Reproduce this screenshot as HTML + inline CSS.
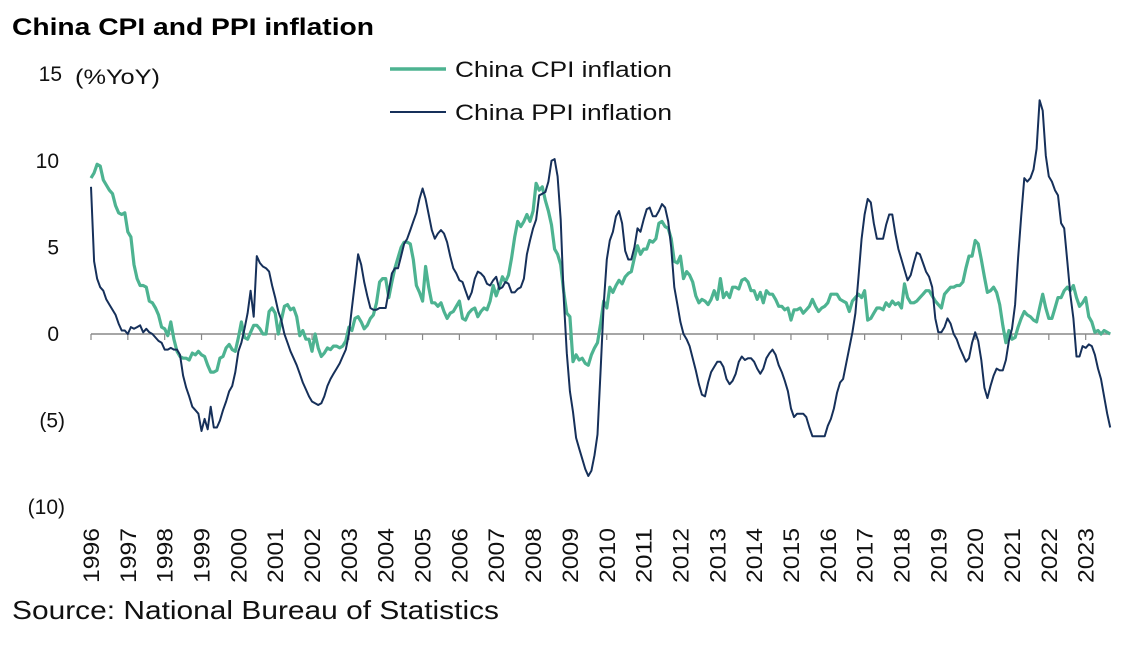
<!DOCTYPE html>
<html><head><meta charset="utf-8">
<style>
html,body{margin:0;padding:0;background:#fff;}
svg{display:block;font-family:"Liberation Sans",sans-serif;}
</style></head>
<body>
<svg id="chart" width="1124" height="649" viewBox="0 0 1124 649" xmlns="http://www.w3.org/2000/svg">
<text x="12" y="35" font-size="24" font-weight="bold" fill="#000" textLength="362" lengthAdjust="spacingAndGlyphs">China CPI and PPI inflation</text>
<text x="75" y="84" font-size="21" fill="#111" textLength="85" lengthAdjust="spacingAndGlyphs">(%YoY)</text>
<g id="yticks"></g>
<g id="xaxis"></g>
<g id="series"></g>
<g>
<line x1="390" y1="69" x2="446" y2="69" stroke="#4db391" stroke-width="3.5"/>
<text x="455" y="77" font-size="22" fill="#111" textLength="217" lengthAdjust="spacingAndGlyphs">China CPI inflation</text>
<line x1="390" y1="112" x2="446" y2="112" stroke="#16305a" stroke-width="2"/>
<text x="455" y="120" font-size="22" fill="#111" textLength="217" lengthAdjust="spacingAndGlyphs">China PPI inflation</text>
</g>
<text x="12" y="619" font-size="26" fill="#111" textLength="487" lengthAdjust="spacingAndGlyphs">Source: National Bureau of Statistics</text>
</svg>
<script>
const years = ["1996","1997","1998","1999","2000","2001","2002","2003","2004","2005","2006","2007","2008","2009","2010","2011","2012","2013","2014","2015","2016","2017","2018","2019","2020","2021","2022","2023"];
const yTickValues = [15,10,5,0,-5,-10];
const yTickLabels = ["15","10","5","0","(5)","(10)"];
const cpi = [
9.0,9.3,9.8,9.7,8.9,8.6,8.3,8.1,7.4,7.0,6.9,7.0,
5.9,5.6,4.0,3.2,2.8,2.8,2.7,1.9,1.8,1.5,1.1,0.4,
0.3,-0.1,0.7,-0.3,-1.0,-1.3,-1.4,-1.4,-1.5,-1.1,-1.2,-1.0,
-1.2,-1.3,-1.8,-2.2,-2.2,-2.1,-1.4,-1.3,-0.8,-0.6,-0.9,-1.0,
-0.2,0.7,-0.2,-0.3,0.1,0.5,0.5,0.3,0.0,0.0,1.3,1.5,
1.2,0.0,0.8,1.6,1.7,1.4,1.5,1.0,-0.1,0.2,-0.3,-0.3,
-1.0,0.0,-0.8,-1.3,-1.1,-0.8,-0.9,-0.7,-0.7,-0.8,-0.7,-0.4,
0.4,0.2,0.9,1.0,0.7,0.3,0.5,0.9,1.1,1.8,3.0,3.2,
3.2,2.1,3.0,3.8,4.4,5.0,5.3,5.3,5.2,4.3,2.8,2.4,
1.9,3.9,2.7,1.8,1.8,1.6,1.8,1.3,0.9,1.2,1.3,1.6,
1.9,0.9,0.8,1.2,1.4,1.5,1.0,1.3,1.5,1.4,1.9,2.8,
2.2,2.7,3.3,3.0,3.4,4.4,5.6,6.5,6.2,6.5,6.9,6.5,
7.1,8.7,8.3,8.5,7.7,7.1,6.3,4.9,4.6,4.0,2.4,1.2,
1.0,-1.6,-1.2,-1.5,-1.4,-1.7,-1.8,-1.2,-0.8,-0.5,0.6,1.9,
1.5,2.7,2.4,2.8,3.1,2.9,3.3,3.5,3.6,4.4,5.1,4.6,
4.9,4.9,5.4,5.3,5.5,6.4,6.5,6.2,6.1,5.5,4.2,4.1,
4.5,3.2,3.6,3.4,3.0,2.2,1.8,2.0,1.9,1.7,2.0,2.5,
2.0,3.2,2.1,2.4,2.1,2.7,2.7,2.6,3.1,3.2,3.0,2.5,
2.5,2.0,2.4,1.8,2.5,2.3,2.3,2.0,1.6,1.6,1.4,1.5,
0.8,1.4,1.4,1.5,1.2,1.4,1.6,2.0,1.6,1.3,1.5,1.6,
1.8,2.3,2.3,2.3,2.0,1.9,1.8,1.3,1.9,2.1,2.3,2.1,
2.5,0.8,0.9,1.2,1.5,1.5,1.4,1.8,1.6,1.9,1.7,1.8,
1.5,2.9,2.1,1.8,1.8,1.9,2.1,2.3,2.5,2.5,2.2,1.9,
1.7,1.5,2.3,2.5,2.7,2.7,2.8,2.8,3.0,3.8,4.5,4.5,
5.4,5.2,4.3,3.3,2.4,2.5,2.7,2.4,1.7,0.5,-0.5,0.2,
-0.3,-0.2,0.4,0.9,1.3,1.1,1.0,0.8,0.7,1.5,2.3,1.5,
0.9,0.9,1.5,2.1,2.1,2.5,2.7,2.5,2.8,2.1,1.6,1.8,
2.1,1.0,0.7,0.1,0.2,0.0,0.2,0.1,0.0];
const ppi = [
8.5,4.2,3.2,2.7,2.5,2.0,1.7,1.4,1.1,0.6,0.2,0.2,
0.0,0.4,0.3,0.4,0.5,0.1,0.3,0.1,0.0,-0.2,-0.4,-0.5,
-0.9,-0.9,-0.8,-0.9,-0.9,-1.2,-2.4,-3.1,-3.6,-4.2,-4.4,-4.6,
-5.6,-4.9,-5.5,-4.2,-5.4,-5.4,-5.0,-4.4,-3.9,-3.3,-3.0,-2.2,
-1.0,-0.5,0.3,1.2,2.5,1.0,4.5,4.1,3.9,3.8,3.6,2.8,
2.1,1.3,0.8,0.0,-0.5,-1.0,-1.4,-1.8,-2.3,-2.8,-3.2,-3.6,
-3.9,-4.0,-4.1,-4.0,-3.6,-3.0,-2.6,-2.3,-2.0,-1.7,-1.3,-0.9,
0.0,1.5,3.0,4.6,4.0,3.0,2.2,1.5,1.4,1.4,1.5,1.5,
1.5,2.5,3.5,3.8,3.8,4.5,5.2,5.5,6.0,6.5,7.0,7.8,
8.4,7.8,6.9,6.0,5.5,5.8,6.0,5.8,5.3,4.5,3.8,3.5,
3.1,3.0,2.5,2.0,2.4,3.2,3.6,3.5,3.3,2.9,2.8,3.1,
3.3,2.6,2.7,3.0,2.9,2.4,2.4,2.6,2.7,3.2,4.6,5.4,
6.1,6.6,8.0,8.1,8.2,8.8,10.0,10.1,9.1,6.6,2.0,-1.1,
-3.3,-4.5,-6.0,-6.6,-7.2,-7.8,-8.2,-7.9,-7.0,-5.8,-2.1,1.7,
4.3,5.4,5.9,6.8,7.1,6.4,4.8,4.3,4.3,5.0,6.1,5.9,
6.6,7.2,7.3,6.8,6.8,7.1,7.5,7.3,6.5,5.0,2.7,1.7,
0.7,0.0,-0.3,-0.7,-1.4,-2.1,-2.9,-3.5,-3.6,-2.8,-2.2,-1.9,
-1.6,-1.6,-1.9,-2.6,-2.9,-2.7,-2.3,-1.6,-1.3,-1.5,-1.4,-1.4,
-1.6,-2.0,-2.3,-2.0,-1.4,-1.1,-0.9,-1.2,-1.8,-2.2,-2.7,-3.3,
-4.3,-4.8,-4.6,-4.6,-4.6,-4.8,-5.4,-5.9,-5.9,-5.9,-5.9,-5.9,
-5.3,-4.9,-4.3,-3.4,-2.8,-2.6,-1.7,-0.8,0.1,1.2,3.3,5.5,
6.9,7.8,7.6,6.4,5.5,5.5,5.5,6.3,6.9,6.9,5.8,4.9,
4.3,3.7,3.1,3.4,4.1,4.7,4.6,4.1,3.6,3.3,2.7,0.9,
0.1,0.1,0.4,0.9,0.6,0.0,-0.3,-0.8,-1.2,-1.6,-1.4,-0.5,
0.1,-0.4,-1.5,-3.1,-3.7,-3.0,-2.4,-2.0,-2.1,-2.1,-1.5,-0.4,
0.3,1.7,4.4,6.8,9.0,8.8,9.0,9.5,10.7,13.5,12.9,10.3,
9.1,8.8,8.3,8.0,6.4,6.1,4.2,2.3,0.9,-1.3,-1.3,-0.7,
-0.8,-0.6,-0.7,-1.2,-2.0,-2.6,-3.6,-4.6,-5.4];

const NS = "http://www.w3.org/2000/svg";
const X0 = 91, PER_MONTH = 3.07, Y0 = 334, PER_UNIT = 17.32;
function xScale(monthIndex){ return X0 + monthIndex * PER_MONTH; }
function yScale(v){ return Y0 - v * PER_UNIT; }
function mk(tag, attrs){ const e = document.createElementNS(NS, tag); for (const k in attrs) e.setAttribute(k, attrs[k]); return e; }

const yg = document.getElementById('yticks');
yTickValues.forEach((v, i) => {
  const t = mk('text', {x: 59, y: yScale(v) + 7, 'font-size': 21, fill: '#111', 'text-anchor': 'end'});
  
  
  if (v === 15) t.setAttribute('x', 62);
  if (v < 0) t.setAttribute('x', 65);
  t.textContent = yTickLabels[i];
  yg.appendChild(t);
});

const xg = document.getElementById('xaxis');
const lastIdx = Math.max(cpi.length, ppi.length) - 1;
const zl = mk('line', {x1: X0, y1: Y0, x2: xScale(lastIdx), y2: Y0, stroke: '#888', 'stroke-width': 1.5});


xg.appendChild(zl);
years.forEach((yr, i) => {
  const x = xScale(i * 12);
  const tk = mk('line', {x1: x, y1: Y0, x2: x, y2: Y0 + 6, stroke: '#888', 'stroke-width': 1.2});
  
  
  xg.appendChild(tk);
  const t = mk('text', {x: 0, y: 0, 'font-size': 22, fill: '#111', 'text-anchor': 'end', transform: `translate(${x + 8},528) rotate(-90)`});
  
  
  t.setAttribute('textLength', '55');
  t.setAttribute('lengthAdjust', 'spacingAndGlyphs');
  t.textContent = yr;
  xg.appendChild(t);
});

const sg = document.getElementById('series');
function pathFor(arr){ return arr.map((v, i) => (i ? 'L' : 'M') + xScale(i).toFixed(1) + ',' + yScale(v).toFixed(1)).join(''); }
const cp = mk('path', {d: pathFor(cpi), fill: 'none', stroke: '#4db391', 'stroke-width': 3.2, 'stroke-linejoin': 'round'});


sg.appendChild(cp);
const pp = mk('path', {d: pathFor(ppi), fill: 'none', stroke: '#16305a', 'stroke-width': 2, 'stroke-linejoin': 'round'});


sg.appendChild(pp);
</script>
</body></html>
